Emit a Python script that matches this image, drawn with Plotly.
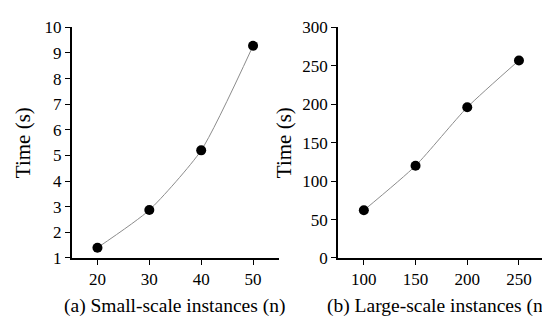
import plotly.graph_objects as go

small_n = [20, 30, 40, 50]
small_time = [1.4, 2.87, 5.2, 9.28]
large_n = [100, 150, 200, 250]
large_time = [62, 120, 196, 257]

small_xticks = [20, 30, 40, 50]
small_yticks = [1, 2, 3, 4, 5, 6, 7, 8, 9, 10]
large_xticks = [100, 150, 200, 250]
large_yticks = [0, 50, 100, 150, 200, 250, 300]

FONT = "Liberation Serif, Times New Roman, serif"

fig = go.Figure()
fig.add_trace(go.Scatter(
    x=small_n, y=small_time, mode="lines+markers",
    line=dict(color="#8c8c8c", width=1, shape="spline", smoothing=0.6),
    marker=dict(color="black", size=10),
    xaxis="x", yaxis="y", showlegend=False, cliponaxis=False))
fig.add_trace(go.Scatter(
    x=large_n, y=large_time, mode="lines+markers",
    line=dict(color="#8c8c8c", width=1, shape="spline", smoothing=0.6),
    marker=dict(color="black", size=10),
    xaxis="x2", yaxis="y2", showlegend=False, cliponaxis=False))

axis_common = dict(showline=True, linecolor="black", linewidth=1.5,
                   ticks="outside", ticklen=5, tickwidth=1.2, tickcolor="black",
                   showgrid=False, zeroline=False, mirror=False,
                   tickfont=dict(family=FONT, size=17, color="black"))

fig.update_layout(
    width=550, height=324,
    margin=dict(l=0, r=0, t=0, b=0),
    paper_bgcolor="white", plot_bgcolor="white",
    font=dict(family=FONT, color="black"),
    xaxis=dict(domain=[0.1155, 0.4927], range=[15, 55], tickvals=small_xticks,
               anchor="y", **axis_common),
    yaxis=dict(domain=[0.2099, 0.966], range=[1, 10], tickvals=small_yticks,
               anchor="x", **axis_common),
    xaxis2=dict(domain=[0.6, 0.976], range=[75, 275], tickvals=large_xticks,
                anchor="y2", **axis_common),
    yaxis2=dict(domain=[0.2099, 0.966], range=[0, 300], tickvals=large_yticks,
                anchor="x2", **axis_common),
    annotations=[
        dict(text="(a) Small-scale instances (n)", x=166/550, y=1-307/324,
             xref="paper", yref="paper", showarrow=False,
             font=dict(family=FONT, size=19.5), xanchor="center", yanchor="middle"),
        dict(text="(b) Large-scale instances (n)", x=430/550, y=1-307/324,
             xref="paper", yref="paper", showarrow=False,
             font=dict(family=FONT, size=19.5), xanchor="center", yanchor="middle"),
        dict(text="Time (s)", x=15/550, y=1-134/324, textangle=-90,
             xref="paper", yref="paper", showarrow=False,
             font=dict(family=FONT, size=21), xanchor="center", yanchor="middle"),
        dict(text="Time (s)", x=276/550, y=1-134/324, textangle=-90,
             xref="paper", yref="paper", showarrow=False,
             font=dict(family=FONT, size=21), xanchor="center", yanchor="middle"),
    ],
)

fig.write_html("out.html")
